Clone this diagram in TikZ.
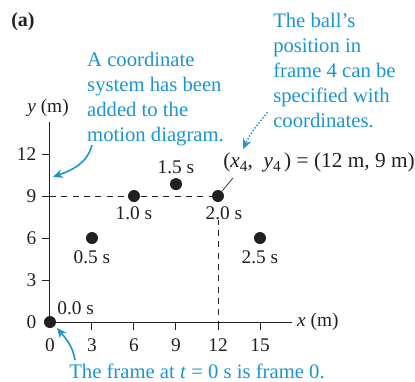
\documentclass[tikz,border=0pt]{standalone}
\usepackage{fontspec}
\setmainfont{Liberation Serif}
\usetikzlibrary{arrows.meta,positioning}
\definecolor{motionInk}{HTML}{231F20}
\definecolor{motionBlue}{HTML}{1B95CF}
\newcommand{\lowsub}[1]{\raisebox{-0.45ex}{\fontsize{11.5}{13}\selectfont #1}}
\tikzset{
  axis/.style={
    line width=0.75pt,
    draw=motionInk
  },
  ball/.style={
    circle,
    fill=motionInk,
    inner sep=0pt,
    minimum size=9pt
  },
  timeLabel/.style={
    inner sep=0pt,
    text=motionInk,
    font=\fontsize{14.5}{17}\selectfont
  },
  guide/.style={
    line width=0.75pt,
    draw=motionInk,
    dash pattern=on 4.5pt off 4pt
  },
  note/.style={
    inner sep=0pt,
    align=left,
    text=motionBlue,
    font=\fontsize{15.5}{18.75}\selectfont
  },
  noteArrow/.style={
    -{Stealth[length=2.6mm,width=2.3mm]},
    line width=1.2pt,
    draw=motionBlue
  },
  noteDotArrow/.style={
    -{Stealth[length=2.6mm,width=2.3mm]},
    line width=1.5pt,
    line cap=round,
    dash pattern=on 0pt off 2.4pt,
    draw=motionBlue
  }
}

\begin{document}
\begin{tikzpicture}[x=10.5pt,y=10.5pt]
  \useasboundingbox (-3.571,-4.214) rectangle (26.071,23.0);
  % axes
  \coordinate (origin) at (0,0);
  \coordinate (xEnd) at (17.3,0);
  \coordinate (yEnd) at (0,14.3);
  \draw[axis] (xEnd) -- (origin) -- (yEnd);
  \node[timeLabel,anchor=west] (xName) at (17.64,0) {\textit{x} (m)};
  \node[timeLabel] (yName) at (-0.14,15.29) {\textit{y} (m)};
  \node[font=\fontsize{15}{18}\selectfont\bfseries,text=motionInk] (panel) at (-1.93,21.43) {(a)};
  % ticks
  \draw[axis] (3,0) -- (3,-0.57) node[timeLabel,below=6pt] {3};
  \draw[axis] (6,0) -- (6,-0.57) node[timeLabel,below=6pt] {6};
  \draw[axis] (9,0) -- (9,-0.57) node[timeLabel,below=6pt] {9};
  \draw[axis] (12,0) -- (12,-0.57) node[timeLabel,below=6pt] {12};
  \draw[axis] (15,0) -- (15,-0.57) node[timeLabel,below=6pt] {15};
  \node[timeLabel,below=6pt] (xZero) at (0,-0.57) {0};
  \draw[axis] (0,3) -- (-0.57,3) node[timeLabel,left=4pt] {3};
  \draw[axis] (0,6) -- (-0.57,6) node[timeLabel,left=4pt] {6};
  \draw[axis] (0,9) -- (-0.57,9) node[timeLabel,left=4pt] {9};
  \draw[axis] (0,12) -- (-0.57,12) node[timeLabel,left=4pt] {12};
  \node[timeLabel,left=4pt] (yZero) at (-0.57,0) {0};
  % motion diagram
  \coordinate (yNine) at (0,9);
  \coordinate (xTwelve) at (12,0);
  \coordinate (frameFour) at (12,9);
  \draw[guide] (yNine) -- (frameFour);
  \draw[guide] (frameFour) -- (xTwelve);
  \node[ball] (b0) at (0,0) {};
  \node[ball] (b1) at (3,6) {};
  \node[ball] (b2) at (6,9) {};
  \node[ball] (b3) at (9,9.85) {};
  \node[ball] (b4) at (frameFour) {};
  \node[ball] (b5) at (15,6) {};
  \node[timeLabel,above right=2pt and 2pt of b0] (t0) {0.0 s};
  \node[timeLabel,below=4.5pt of b1] (t1) {0.5 s};
  \node[timeLabel,below=3pt of b2] (t2) {1.0 s};
  \node[timeLabel,above=3pt of b3] (t3) {1.5 s};
  \node[timeLabel,fill=white,below=3pt of b4,xshift=4.5pt] (t4) {2.0 s};
  \node[timeLabel,below=4.5pt of b5] (t5) {2.5 s};
  \node[timeLabel,font=\fontsize{16}{18}\selectfont,anchor=base west] (pos) at (12.36,11.07)
    {(\textit{x}\lowsub{4},\ \ \textit{y}\lowsub{4}\,) = (12 m, 9 m)};
  \coordinate (posLead) at (13.07,10.29);
  \draw[line width=0.5pt,draw=motionInk] (posLead) -- (b4);
  % notes
  \node[note,anchor=north west] (leftNote) at (2.64,19.29)
    {A coordinate\\system has been\\added to the\\motion diagram.};
  \node[note,anchor=north west] (rightNote) at (15.93,22.07)
    {The ball's\\position in\\frame 4 can be\\specified with\\coordinates.};
  \node[note,anchor=base] (bottomNote) at (10.5,-4.0)
    {The frame at \textit{t} = 0 s is frame 0.};
  \coordinate (leftTail) at (3.0,12.64);
  \coordinate (leftHead) at (0.21,10.36);
  \coordinate (rightTail) at (15.5,14.93);
  \coordinate (rightHead) at (13.79,12.36);
  \coordinate (bottomTail) at (1.79,-2.71);
  \coordinate (bottomHead) at (0.5,-0.43);
  \draw[noteArrow] (leftTail) to[out=-105,in=20] (leftHead);
  \draw[noteDotArrow] (rightTail) to[out=-130,in=65] (rightHead);
  \draw[noteArrow] (bottomTail) to[out=100,in=-50] (bottomHead);
\end{tikzpicture}
\end{document}
